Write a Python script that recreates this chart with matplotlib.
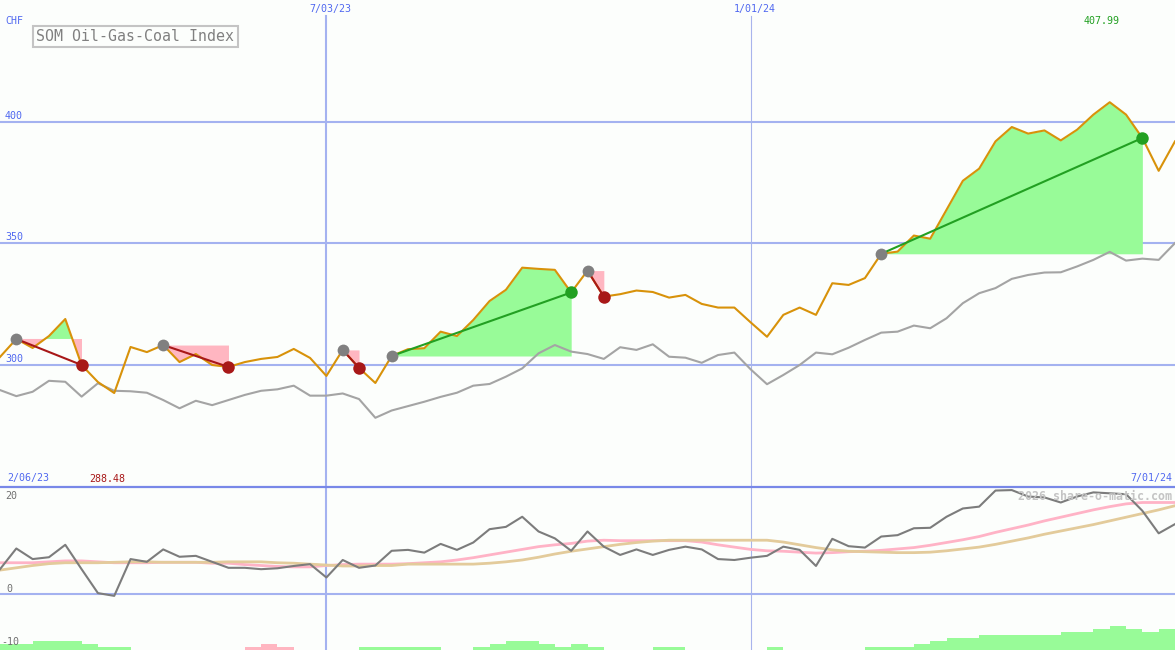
import matplotlib
matplotlib.use('Agg')
import matplotlib.pyplot as plt
from matplotlib.lines import Line2D
import numpy as np

# ---------------- data (weekly, 2/13/23 .. 7/01/24) ----------------
price = [303.3, 310.7, 307.0, 311.9, 318.9, 300.0, 293.0, 288.48, 307.4, 305.3,
         308.2, 301.2, 304.5, 300.0, 299.2, 301.2, 302.5, 303.3, 306.6, 302.9,
         295.5, 306.2, 298.8, 292.6, 303.7, 306.5, 306.9, 313.7, 311.9, 318.5,
         326.3, 330.9, 340.0, 339.5, 339.1, 329.8, 338.8, 328.1, 329.1, 330.6,
         330.0, 327.7, 328.8, 325.1, 323.6, 323.6, 317.5, 311.6, 320.6, 323.6,
         320.6, 333.6, 332.9, 335.7, 345.7, 346.6, 353.2, 351.9, 363.8, 375.7,
         380.7, 391.9, 397.8, 395.1, 396.4, 392.3, 396.7, 402.9, 407.99, 402.9,
         393.3, 379.8, 391.9]

benchmark = [289.7, 287.2, 289.0, 293.5, 293.1, 287.0, 292.5, 289.4, 289.2, 288.6,
             285.6, 282.2, 285.3, 283.5, 285.6, 287.7, 289.4, 290.0, 291.5, 287.4,
             287.4, 288.3, 286.0, 278.3, 281.3, 283.1, 284.9, 286.9, 288.6, 291.5,
             292.2, 295.2, 298.6, 304.8, 308.2, 305.5, 304.5, 302.5, 307.3, 306.2,
             308.5, 303.4, 303.0, 300.9, 304.1, 305.1, 298.2, 292.1, 295.9, 300.0,
             305.1, 304.4, 307.1, 310.3, 313.3, 313.7, 316.2, 315.1, 319.2, 325.4,
             329.5, 331.6, 335.4, 337.0, 338.0, 338.1, 340.5, 343.2, 346.5, 342.9,
             343.7, 343.2, 350.1]

momentum = [5.5, 10.0, 7.7, 8.1, 10.8, 5.5, 0.3, -0.3, 7.7, 7.1,
            9.8, 8.2, 8.4, 7.1, 5.8, 5.8, 5.5, 5.7, 6.2, 6.6,
            3.7, 7.5, 5.8, 6.3, 9.5, 9.7, 9.1, 11.0, 9.7, 11.3,
            14.2, 14.7, 16.9, 13.7, 12.2, 9.5, 13.7, 10.4, 8.6, 9.8,
            8.6, 9.7, 10.4, 9.8, 7.7, 7.5, 8.0, 8.4, 10.4, 9.7,
            6.2, 12.1, 10.5, 10.2, 12.6, 12.9, 14.4, 14.5, 16.9, 18.7,
            19.1, 22.6, 22.7, 21.3, 21.1, 20.0, 21.3, 22.2, 22.0, 21.8,
            18.2, 13.3, 15.3]

avg_fast = [6.9, 6.9, 6.9, 7.1, 7.3, 7.3, 7.1, 6.9, 6.9, 6.9,
            7.0, 7.0, 7.0, 6.8, 6.8, 6.5, 6.3, 6.1, 6.0, 6.0,
            6.3, 6.5, 6.6, 6.6, 6.6, 6.7, 6.9, 7.1, 7.5, 8.0,
            8.6, 9.2, 9.8, 10.4, 10.8, 11.1, 11.6, 11.8, 11.7, 11.7,
            11.7, 11.7, 11.7, 11.4, 10.8, 10.3, 9.8, 9.5, 9.4, 9.2,
            9.0, 9.1, 9.3, 9.4, 9.6, 9.9, 10.2, 10.7, 11.3, 11.9,
            12.6, 13.5, 14.3, 15.1, 16.0, 16.8, 17.6, 18.4, 19.1, 19.7,
            20.0, 20.0, 20.0]

avg_slow = [5.3, 5.8, 6.3, 6.7, 6.9, 6.9, 6.9, 7.0, 7.1, 7.1,
            7.0, 7.0, 7.0, 7.0, 7.1, 7.1, 7.1, 6.9, 6.8, 6.6,
            6.4, 6.2, 6.2, 6.3, 6.3, 6.6, 6.6, 6.6, 6.6, 6.6,
            6.8, 7.1, 7.5, 8.1, 8.8, 9.4, 9.9, 10.4, 10.9, 11.3,
            11.6, 11.8, 11.8, 11.8, 11.8, 11.8, 11.8, 11.8, 11.4, 10.8,
            10.2, 9.7, 9.4, 9.3, 9.2, 9.1, 9.1, 9.2, 9.5, 9.9,
            10.3, 10.9, 11.6, 12.3, 13.1, 13.8, 14.5, 15.2, 16.0, 16.8,
            17.6, 18.4, 19.3]

# histogram (one bar per week interval), in steps
hist = [2, 2, 3, 3, 3, 2, 1, 1, 0, 0, 0, 0, 0, 0, 0, -1, -2, -1, 0, 0,
        0, 0, 1, 1, 1, 1, 1, 0, 0, 1, 2, 3, 3, 2, 1, 2, 1, 0, 0, 0,
        1, 1, 0, 0, 0, 0, 0, 1, 0, 0, 0, 0, 0, 1, 1, 1, 2, 3, 4, 4,
        5, 5, 5, 5, 5, 6, 6, 7, 8, 7, 6, 7]

entries = [1, 10, 21, 24, 36, 54]
exits = [5, 14, 22, 35, 37, 70]

x_labels = ['7/03/23', '1/01/24']
x_label_idx = [20, 46]
y_ticks = [300, 350, 400]
title = 'SOM Oil-Gas-Coal Index'

# ---------------- style ----------------
W, H = 1175, 650
bg = '#fcfefc'
grid_c = '#a4b2f0'
blue_txt = '#5068f0'
orange = '#d8920a'
bench_c = '#a4a4a4'
green_fill = '#98fb98'
pink_fill = '#ffb6c1'
win_c = '#22a022'
loss_c = '#a81818'
mono = 'DejaVu Sans Mono'

fig = plt.figure(figsize=(W / 100, H / 100), dpi=100)
fig.patch.set_facecolor(bg)

split = 487
ax = fig.add_axes([0, (H - split) / H, 1, split / H])
ax2 = fig.add_axes([0, 0, 1, (H - split) / H])
n = len(price)
x = np.arange(n)
for a in (ax, ax2):
    a.set_xlim(0, n - 1)
    a.set_axis_off()

ax.set_ylim(249.86, 450.0)
ax2.set_ylim(-12.07, 23.37)

# grid
for v in y_ticks:
    ax.axhline(v, color=grid_c, lw=1.5, zorder=1)
top_frac = (split - 16) / split
ax.axvline(x_label_idx[0], ymax=top_frac, color=grid_c, lw=1.5, zorder=1)
ax.axvline(x_label_idx[1], ymax=top_frac, color='#a8b4ec', lw=0.8, zorder=1)
ax2.axvline(x_label_idx[0], color=grid_c, lw=1.5, zorder=1)
ax2.axvline(x_label_idx[1], color='#a8b4ec', lw=0.8, zorder=1)
ax2.axhline(0, color=grid_c, lw=1.5, zorder=1)
fig.add_artist(Line2D([0, 1], [(H - split) / H] * 2, transform=fig.transFigure,
                      color='#7888e8', lw=1.6, zorder=10))

# trades
p = np.array(price)
for e, xo in zip(entries, exits):
    xs = x[e:xo + 1]
    ps = p[e:xo + 1]
    lvl = p[e]
    ax.fill_between(xs, lvl, ps, where=ps >= lvl, interpolate=True,
                    color=green_fill, lw=0, zorder=2)
    ax.fill_between(xs, lvl, ps, where=ps <= lvl, interpolate=True,
                    color=pink_fill, lw=0, zorder=2)

ax.plot(x, benchmark, color=bench_c, lw=1.5, zorder=3)
ax.plot(x, price, color=orange, lw=1.5, zorder=4)

for e, xo in zip(entries, exits):
    c = win_c if p[xo] > p[e] else loss_c
    ax.plot([e, xo], [p[e], p[xo]], color=c, lw=1.5, zorder=5)
    ax.plot(e, p[e], 'o', ms=8.5, color='#808080', mec='none', zorder=6)
    ax.plot(xo, p[xo], 'o', ms=9, color=c, mec='none', zorder=6)

# lower panel
step = 3 / 4.6
for k, h in enumerate(hist):
    if h == 0:
        continue
    ax2.bar(k + 0.5, abs(h) * step, bottom=-12.07, width=1.0,
            color=green_fill if h > 0 else pink_fill, lw=0, zorder=2)
ax2.plot(x, avg_fast, color='#ffb3c6', lw=2.0, zorder=3)
ax2.plot(x, avg_slow, color='#e3cb9b', lw=2.0, zorder=3)
ax2.plot(x, momentum, color='#7c7c7c', lw=1.5, zorder=4)


def ftext(px, py, s, **kw):
    kw.setdefault('family', mono)
    kw.setdefault('fontsize', 7.2)
    kw.setdefault('va', 'center')
    return fig.text(px / W, 1 - py / H, s, **kw)


ftext(5, 21.5, 'CHF', color=blue_txt)
for v in y_ticks:
    py = 365 - (v - 300) * 2.433 - 6
    ftext(5, py, str(v), color=blue_txt)
ftext(330.5, 8.7, x_labels[0], color=blue_txt, ha='center')
ftext(754.5, 8.7, x_labels[1], color=blue_txt, ha='center')
ftext(1102, 21.2, f'{max(price):.2f}', color=win_c, ha='center')
ftext(7, 478.5, '2/06/23', color=blue_txt)
ftext(89, 478.5, f'{min(price):.2f}', color=loss_c)
ftext(1172, 478.5, '7/01/24', color=blue_txt, ha='right')
ftext(5, 496, '20', color='#707070')
ftext(6, 589, '0', color='#707070')
ftext(1, 642, '-10', color='#707070')
ftext(1172, 496.5, '2026 share-o-matic.com', color='#c4c4c4', ha='right',
      fontsize=8.4, fontweight='bold', zorder=20)
ftext(135.5, 36.3, title, color='#808080', ha='center', fontsize=10.7,
      bbox=dict(boxstyle='square,pad=0.22', fc=bg, ec='#c4c4c4', lw=1.5))

fig.savefig('out.png', dpi=100, facecolor=bg)
